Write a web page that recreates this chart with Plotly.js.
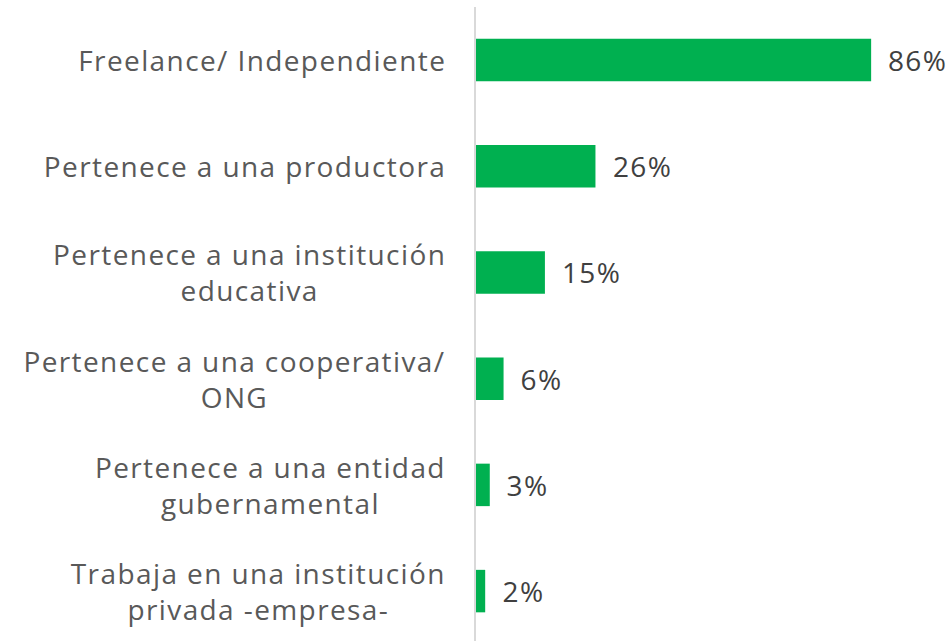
<!DOCTYPE html>
<html>
<head>
<meta charset="utf-8">
<script src="https://cdn.plot.ly/plotly-3.0.1.min.js"></script>
<style>html,body{margin:0;padding:0;background:#fff;}#chart{width:952px;height:641px;}
#chart .annotation-text{letter-spacing:1.4px;}</style>
</head>
<body>
<div id="chart"></div>
<script>
const categories = [
  "Freelance/ Independiente",
  "Pertenece a una productora",
  "Pertenece a una institución<br>educativa",
  "Pertenece a una cooperativa/<br>ONG",
  "Pertenece a una entidad<br>gubernamental",
  "Trabaja en una institución<br>privada -empresa-"
];
const values = [86, 26, 15, 6, 3, 2];
const valueLabels = values.map(v => v + "%");

const FONT = "Open Sans, sans-serif";
const SPACING = 1.4;
const idx = categories.map((c, i) => i);

const trace = {
  type: "bar",
  orientation: "h",
  x: values,
  y: idx,
  marker: {color: "#00B050"},
  hoverinfo: "none"
};

// compensate for CSS letter-spacing not included in Plotly's text measurement
function longest(t) { return Math.max(...t.split("<br>").map(s => s.length)); }

const annotations = [];
categories.forEach((c, i) => {
  annotations.push({
    xref: "paper", yref: "y", x: 0, y: i,
    xanchor: "right", yanchor: "middle", align: "center",
    xshift: -28 - SPACING * longest(c) / 2, showarrow: false, text: c,
    font: {family: FONT, size: 28, color: "#595959"}
  });
  annotations.push({
    xref: "x", yref: "y", x: values[i], y: i,
    xanchor: "left", yanchor: "middle",
    xshift: 15 + SPACING * valueLabels[i].length / 2, showarrow: false, text: valueLabels[i],
    font: {family: FONT, size: 28, color: "#404040"}
  });
});

const layout = {
  width: 952, height: 641,
  margin: {l: 476, r: 0, t: 7, b: 0},
  paper_bgcolor: "#fff", plot_bgcolor: "#fff",
  bargap: 0.6,
  showlegend: false,
  xaxis: {range: [0, 103.6], visible: false, fixedrange: true},
  yaxis: {
    range: [5.47, -0.5], showticklabels: false, ticks: "",
    showgrid: false, zeroline: false,
    showline: true, linecolor: "#d9d9d9", linewidth: 2, fixedrange: true
  },
  annotations: annotations
};

Plotly.newPlot("chart", [trace], layout, {displayModeBar: false, staticPlot: true});
</script>
</body>
</html>
